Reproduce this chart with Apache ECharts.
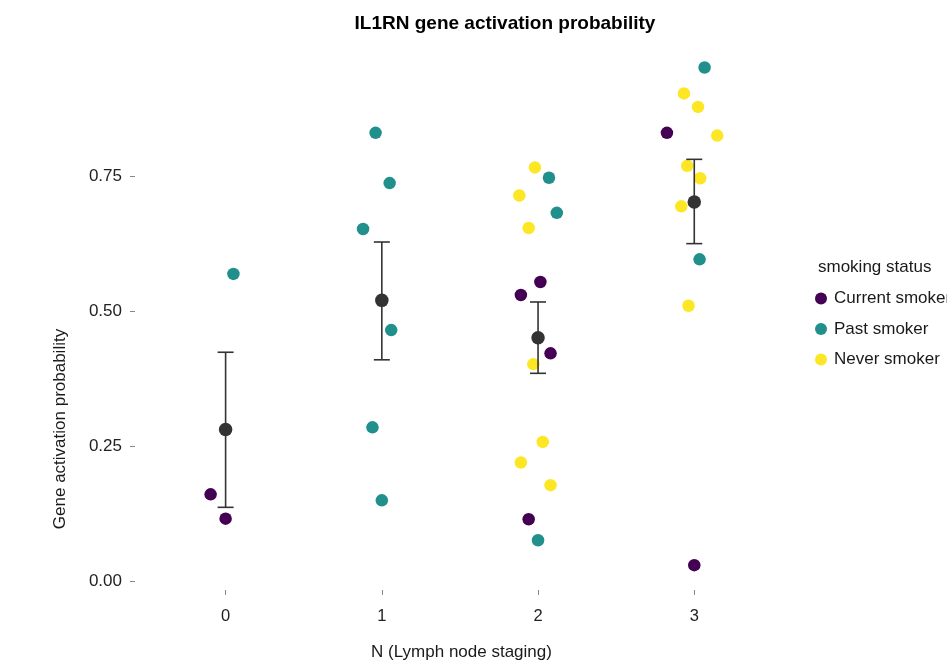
<!DOCTYPE html>
<html>
<head>
<meta charset="utf-8">
<script src="https://cdn.jsdelivr.net/npm/echarts@6/dist/echarts.min.js"></script>
<style>
  html, body { margin: 0; padding: 0; background: #fff; }
  #chart { width: 947px; height: 660px; }
</style>
</head>
<body>
<div id="chart"></div>
<script>
// N stage (jittered) and activation probability, one array per smoking status
var currentSmoker = [
  [-0.096, 0.161], [0.0, 0.116],
  [2.015, 0.554], [1.89, 0.530], [2.08, 0.422], [1.94, 0.115],
  [2.825, 0.830], [3.0, 0.030]
];
var pastSmoker = [
  [0.05, 0.569],
  [0.96, 0.830], [1.05, 0.737], [0.88, 0.652], [1.06, 0.465], [0.94, 0.285], [1.0, 0.150],
  [2.07, 0.747], [2.12, 0.682], [2.0, 0.076],
  [3.066, 0.951], [3.034, 0.596]
];
var neverSmoker = [
  [1.98, 0.766], [1.88, 0.714], [1.94, 0.654], [1.97, 0.402], [2.03, 0.258], [1.89, 0.220], [2.08, 0.178],
  [2.934, 0.903], [3.024, 0.878], [3.147, 0.825], [2.955, 0.769], [3.038, 0.746], [2.917, 0.694], [2.963, 0.510]
];

// group means with error bar limits
var stages = [0, 1, 2, 3];
var means = [0.281, 0.520, 0.451, 0.702];
var lower = [0.137, 0.410, 0.385, 0.625];
var upper = [0.424, 0.628, 0.517, 0.781];

var xTicks = [0, 1, 2, 3];
var yTicks = [0, 0.25, 0.5, 0.75];

var chart = echarts.init(document.getElementById('chart'));

var font = 'Liberation Sans, Arial, sans-serif';

var option = {
  animation: false,
  backgroundColor: '#fff',
  textStyle: { fontFamily: font },
  title: {
    text: 'IL1RN gene activation probability',
    left: 500,
    top: 9,
    textAlign: 'center',
    textStyle: { fontSize: 19, fontWeight: 'bold', color: '#000', fontFamily: font }
  },
  grid: { left: 135, right: 159, top: 41, bottom: 70, containLabel: false, outerBoundsMode: 'none' },
  legend: {
    orient: 'vertical',
    left: 810,
    top: 285,
    itemWidth: 14,
    itemHeight: 12,
    itemGap: 13.5,
    icon: 'circle',
    textStyle: { fontSize: 17, color: '#1a1a1a', fontFamily: font, padding: [0, 0, 0, 1] },
    data: ['Current smoker', 'Past smoker', 'Never smoker']
  },
  graphic: [
    {
      type: 'text',
      left: 818,
      top: 259,
      style: { text: 'smoking status', fontSize: 17, fill: '#1a1a1a', fontFamily: font }
    },
    {
      type: 'text',
      x: 60,
      y: 429,
      rotation: Math.PI / 2,
      style: {
        text: 'Gene activation probability',
        fontSize: 17, fill: '#1a1a1a', fontFamily: font,
        align: 'center', verticalAlign: 'middle'
      }
    }
  ],
  xAxis: {
    type: 'value',
    min: -0.58,
    max: 3.6,
    name: 'N (Lymph node staging)',
    nameLocation: 'middle',
    nameGap: 54,
    nameTextStyle: { fontSize: 17, color: '#1a1a1a' },
    axisLine: { show: false, onZero: false },
    splitLine: { show: false },
    axisTick: { show: true, length: 5, customValues: xTicks, lineStyle: { color: '#888' } },
    axisLabel: { customValues: xTicks, fontSize: 16.5, color: '#222', margin: 18 }
  },
  yAxis: {
    type: 'value',
    min: -0.016,
    max: 1.0,
    axisLine: { show: false, onZero: false },
    splitLine: { show: false },
    axisTick: { show: true, length: 5, customValues: yTicks, lineStyle: { color: '#888' } },
    axisLabel: {
      customValues: yTicks, fontSize: 17, color: '#222', margin: 13,
      formatter: function (v) { return v.toFixed(2); }
    }
  },
  series: [
    {
      name: 'Current smoker', type: 'scatter', data: currentSmoker,
      symbolSize: 12.5, itemStyle: { color: '#440154', opacity: 1 }, z: 2
    },
    {
      name: 'Past smoker', type: 'scatter', data: pastSmoker,
      symbolSize: 12.5, itemStyle: { color: '#21908C', opacity: 1 }, z: 2
    },
    {
      name: 'Never smoker', type: 'scatter', data: neverSmoker,
      symbolSize: 12.5, itemStyle: { color: '#FDE725', opacity: 1 }, z: 2
    },
    {
      type: 'custom',
      z: 3,
      silent: true,
      data: stages.map(function (s, i) { return [s, lower[i], upper[i]]; }),
      renderItem: function (params, api) {
        var lo = api.coord([api.value(0), api.value(1)]);
        var hi = api.coord([api.value(0), api.value(2)]);
        var w = 8;
        var st = { stroke: '#333', lineWidth: 1.6 };
        return {
          type: 'group',
          children: [
            { type: 'line', shape: { x1: lo[0], y1: lo[1], x2: hi[0], y2: hi[1] }, style: st },
            { type: 'line', shape: { x1: lo[0] - w, y1: lo[1], x2: lo[0] + w, y2: lo[1] }, style: st },
            { type: 'line', shape: { x1: hi[0] - w, y1: hi[1], x2: hi[0] + w, y2: hi[1] }, style: st }
          ]
        };
      }
    },
    {
      type: 'scatter', z: 4, silent: true,
      data: stages.map(function (s, i) { return [s, means[i]]; }),
      symbolSize: 13.5, itemStyle: { color: '#333', opacity: 1 }
    }
  ]
};

chart.setOption(option);
</script>
</body>
</html>
